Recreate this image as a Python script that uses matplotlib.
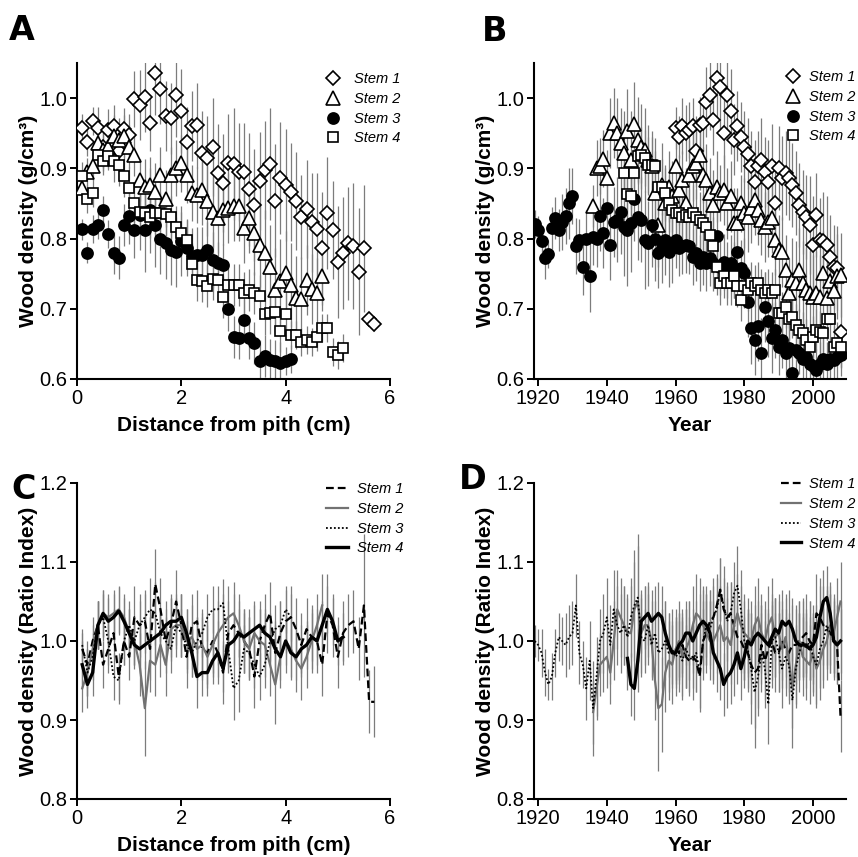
import numpy as np
import matplotlib
matplotlib.use('Agg')
import matplotlib.pyplot as plt

plt.rcParams['font.family'] = ['Liberation Sans', 'DejaVu Sans']

# ---------------- data ----------------
# panel A: density vs distance from pith (cm), samples every 0.1 cm
a_s1 = [0.957, 0.937, 0.967, 0.957, 0.931, 0.955, 0.960, 0.924, 0.956, 0.948,
        0.999, 0.990, 1.002, 0.965, 1.036, 1.013, 0.975, 0.971, 1.004, 0.982,
        0.937, 0.960, 0.961, 0.922, 0.915, 0.930, 0.893, 0.879, 0.907, 0.906,
        0.895, 0.895, 0.870, 0.848, 0.882, 0.898, 0.906, 0.854, 0.886, 0.876,
        0.866, 0.853, 0.831, 0.842, 0.823, 0.813, 0.786, 0.836, 0.812, 0.767,
        0.779, 0.793, 0.789, 0.753, 0.786, 0.686, 0.679]
a_s1_err = [0.02, 0.02, 0.02, 0.03, 0.03, 0.03, 0.03, 0.04, 0.03, 0.03,
            0.04, 0.05, 0.05, 0.04, 0.06, 0.05, 0.05, 0.05, 0.06, 0.06,
            0.05, 0.05, 0.06, 0.06, 0.06, 0.07, 0.07, 0.07, 0.07, 0.08,
            0.07, 0.07, 0.08, 0.08, 0.07, 0.07, 0.08, 0.08, 0.08, 0.08,
            0.07, 0.07, 0.06, 0.07, 0.07, 0.08, 0.08, 0.08, 0.07, 0.08,
            0.08, 0.08, 0.09, 0.09, 0.09, 0.01, 0.01]
a_s2 = [0.872, 0.895, 0.903, 0.936, 0.926, 0.931, 0.946, 0.941, 0.946, 0.931,
        0.919, 0.884, 0.873, 0.876, 0.867, 0.891, 0.857, 0.891, 0.900, 0.907,
        0.891, 0.865, 0.862, 0.869, 0.853, 0.838, 0.829, 0.841, 0.843, 0.847,
        0.847, 0.815, 0.829, 0.808, 0.791, 0.780, 0.760, 0.727, 0.739, 0.751,
        0.734, 0.715, 0.714, 0.741, 0.728, 0.723, 0.747]
a_s2_err = [0.02, 0.02, 0.02, 0.02, 0.03, 0.03, 0.03, 0.03, 0.03, 0.03,
            0.03, 0.03, 0.04, 0.04, 0.04, 0.04, 0.04, 0.04, 0.04, 0.04,
            0.04, 0.04, 0.04, 0.05, 0.05, 0.05, 0.05, 0.05, 0.05, 0.05,
            0.05, 0.05, 0.05, 0.06, 0.06, 0.06, 0.06, 0.06, 0.06, 0.06,
            0.06, 0.06, 0.06, 0.05, 0.05, 0.05, 0.05]
a_s3 = [0.813, 0.780, 0.813, 0.819, 0.840, 0.806, 0.780, 0.773, 0.819, 0.832,
        0.812, 0.834, 0.812, 0.840, 0.819, 0.800, 0.793, 0.784, 0.781, 0.796,
        0.786, 0.775, 0.777, 0.777, 0.783, 0.770, 0.765, 0.762, 0.699, 0.660,
        0.658, 0.684, 0.659, 0.651, 0.626, 0.633, 0.627, 0.625, 0.623, 0.626,
        0.629]
a_s3_err = [0.015, 0.015, 0.02, 0.02, 0.02, 0.02, 0.03, 0.03, 0.03, 0.04,
            0.04, 0.05, 0.06, 0.06, 0.06, 0.05, 0.05, 0.05, 0.05, 0.05,
            0.04, 0.04, 0.04, 0.04, 0.04, 0.04, 0.03, 0.03, 0.03, 0.03,
            0.03, 0.03, 0.03, 0.03, 0.03, 0.03, 0.03, 0.03, 0.03, 0.02,
            0.02]
a_s4 = [0.889, 0.856, 0.865, 0.919, 0.910, 0.917, 0.910, 0.905, 0.889, 0.872,
        0.850, 0.838, 0.836, 0.831, 0.836, 0.836, 0.835, 0.831, 0.817, 0.808,
        0.798, 0.764, 0.741, 0.739, 0.732, 0.743, 0.741, 0.717, 0.734, 0.734,
        0.734, 0.722, 0.727, 0.722, 0.718, 0.693, 0.694, 0.696, 0.669, 0.692,
        0.663, 0.663, 0.653, 0.655, 0.653, 0.660, 0.672, 0.672, 0.639, 0.634,
        0.644]
a_s4_err = [0.02, 0.02, 0.02, 0.02, 0.02, 0.02, 0.03, 0.03, 0.03, 0.03,
            0.03, 0.03, 0.03, 0.03, 0.03, 0.03, 0.03, 0.03, 0.03, 0.03,
            0.03, 0.03, 0.03, 0.03, 0.03, 0.03, 0.03, 0.03, 0.03, 0.03,
            0.03, 0.03, 0.03, 0.03, 0.03, 0.03, 0.03, 0.03, 0.03, 0.03,
            0.02, 0.02, 0.02, 0.02, 0.02, 0.02, 0.02, 0.02, 0.02, 0.02,
            0.02]

# panel B: density by year (first year of each stem)
b_s1_start, b_s2_start, b_s3_start, b_s4_start = 1960, 1936, 1919, 1945
b_s1 = [0.957, 0.945, 0.960, 0.950, 0.955, 0.960, 0.924, 0.962, 0.965, 0.995,
        1.005, 0.969, 1.029, 1.016, 0.950, 1.005, 0.981, 0.941, 0.960, 0.945,
        0.931, 0.921, 0.903, 0.881, 0.903, 0.912, 0.895, 0.881, 0.903, 0.850,
        0.900, 0.886, 0.893, 0.886, 0.876, 0.865, 0.848, 0.838, 0.831, 0.819,
        0.791, 0.834, 0.798, 0.796, 0.791, 0.774, 0.760, 0.758, 0.667]
b_s1_err = [0.03, 0.03, 0.04, 0.04, 0.04, 0.04, 0.05, 0.04, 0.04, 0.05,
            0.05, 0.05, 0.06, 0.06, 0.05, 0.06, 0.06, 0.05, 0.05, 0.05,
            0.05, 0.05, 0.05, 0.06, 0.05, 0.06, 0.05, 0.06, 0.06, 0.06,
            0.06, 0.06, 0.06, 0.06, 0.06, 0.06, 0.06, 0.06, 0.06, 0.07,
            0.07, 0.06, 0.06, 0.07, 0.07, 0.06, 0.06, 0.06, 0.05]
b_s2 = [0.846, 0.900, 0.903, 0.914, 0.886, 0.950, 0.965, 0.950, 0.936, 0.922,
        0.953, 0.912, 0.963, 0.941, 0.931, 0.926, 0.912, 0.903, 0.865, 0.819,
        0.876, 0.850, 0.874, 0.860, 0.903, 0.869, 0.884, 0.850, 0.891, 0.903,
        0.907, 0.919, 0.891, 0.884, 0.865, 0.848, 0.874, 0.865, 0.869, 0.850,
        0.860, 0.822, 0.822, 0.850, 0.836, 0.831, 0.843, 0.855, 0.841, 0.827,
        0.817, 0.824, 0.829, 0.798, 0.784, 0.781, 0.755, 0.722, 0.741, 0.736,
        0.755, 0.736, 0.727, 0.722, 0.717, 0.722, 0.717, 0.751, 0.715, 0.739,
        0.725, 0.746, 0.748]
b_s2_err = [0.03, 0.04, 0.04, 0.04, 0.04, 0.05, 0.05, 0.05, 0.05, 0.06,
            0.06, 0.07, 0.06, 0.06, 0.06, 0.06, 0.05, 0.05, 0.06, 0.06,
            0.06, 0.05, 0.05, 0.05, 0.05, 0.05, 0.04, 0.05, 0.05, 0.05,
            0.05, 0.05, 0.04, 0.05, 0.05, 0.05, 0.05, 0.04, 0.05, 0.05,
            0.05, 0.05, 0.05, 0.04, 0.05, 0.05, 0.05, 0.05, 0.05, 0.05,
            0.05, 0.05, 0.05, 0.05, 0.05, 0.05, 0.05, 0.05, 0.06, 0.06,
            0.06, 0.06, 0.06, 0.06, 0.06, 0.06, 0.06, 0.06, 0.06, 0.06,
            0.06, 0.06, 0.06]
b_s3 = [0.821, 0.812, 0.797, 0.773, 0.778, 0.815, 0.829, 0.812, 0.823, 0.832,
        0.850, 0.861, 0.789, 0.798, 0.760, 0.800, 0.746, 0.802, 0.800, 0.832,
        0.808, 0.843, 0.791, 0.824, 0.827, 0.838, 0.817, 0.812, 0.822, 0.856,
        0.830, 0.827, 0.798, 0.793, 0.819, 0.800, 0.779, 0.786, 0.798, 0.781,
        0.786, 0.798, 0.786, 0.789, 0.791, 0.789, 0.774, 0.779, 0.765, 0.774,
        0.765, 0.772, 0.765, 0.803, 0.760, 0.767, 0.755, 0.765, 0.755, 0.781,
        0.758, 0.751, 0.710, 0.672, 0.656, 0.675, 0.637, 0.703, 0.682, 0.658,
        0.670, 0.646, 0.656, 0.637, 0.644, 0.609, 0.641, 0.637, 0.629, 0.632,
        0.622, 0.618, 0.613, 0.622, 0.629, 0.622, 0.629, 0.627, 0.632, 0.634]
b_s3_err = [0.02, 0.02, 0.02, 0.03, 0.02, 0.03, 0.03, 0.03, 0.04, 0.04,
            0.05, 0.04, 0.04, 0.03, 0.04, 0.04, 0.05, 0.04, 0.04, 0.05,
            0.05, 0.05, 0.05, 0.05, 0.06, 0.06, 0.07, 0.08, 0.07, 0.06,
            0.06, 0.06, 0.07, 0.06, 0.06, 0.06, 0.05, 0.05, 0.05, 0.05,
            0.05, 0.04, 0.04, 0.04, 0.04, 0.04, 0.04, 0.04, 0.04, 0.04,
            0.04, 0.04, 0.04, 0.04, 0.04, 0.04, 0.04, 0.04, 0.04, 0.04,
            0.04, 0.05, 0.05, 0.05, 0.05, 0.05, 0.05, 0.05, 0.05, 0.05,
            0.04, 0.04, 0.04, 0.04, 0.04, 0.04, 0.04, 0.03, 0.03, 0.03,
            0.03, 0.03, 0.03, 0.03, 0.03, 0.03, 0.03, 0.03, 0.03, 0.03]
b_s4 = [0.894, 0.864, 0.860, 0.894, 0.918, 0.919, 0.915, 0.905, 0.905, 0.903,
        0.874, 0.874, 0.865, 0.850, 0.841, 0.836, 0.836, 0.831, 0.834, 0.831,
        0.836, 0.831, 0.827, 0.822, 0.817, 0.805, 0.790, 0.760, 0.736, 0.746,
        0.736, 0.736, 0.746, 0.732, 0.713, 0.732, 0.727, 0.736, 0.732, 0.736,
        0.727, 0.722, 0.727, 0.722, 0.727, 0.694, 0.694, 0.703, 0.686, 0.689,
        0.677, 0.670, 0.665, 0.656, 0.646, 0.660, 0.670, 0.667, 0.665, 0.686,
        0.686, 0.646, 0.651, 0.646]
b_s4_err = [0.03, 0.04, 0.04, 0.04, 0.04, 0.04, 0.04, 0.04, 0.04, 0.04,
            0.04, 0.04, 0.04, 0.04, 0.04, 0.04, 0.04, 0.04, 0.04, 0.04,
            0.04, 0.04, 0.04, 0.04, 0.04, 0.04, 0.04, 0.04, 0.03, 0.03,
            0.03, 0.03, 0.03, 0.03, 0.03, 0.03, 0.03, 0.03, 0.03, 0.03,
            0.03, 0.03, 0.03, 0.03, 0.03, 0.03, 0.03, 0.03, 0.03, 0.03,
            0.03, 0.03, 0.03, 0.03, 0.03, 0.03, 0.03, 0.03, 0.03, 0.03,
            0.03, 0.03, 0.03, 0.03]

# panel C: ratio index vs distance from pith (cm)
c_s1 = [0.990, 0.970, 1.000, 1.020, 0.970, 0.990, 1.010, 0.955, 1.000, 0.980,
        1.030, 1.020, 1.025, 0.990, 1.072, 1.040, 1.000, 1.020, 1.050, 1.020,
        0.980, 1.020, 1.025, 0.990, 0.985, 1.000, 0.985, 0.960, 1.010, 1.020,
        1.010, 1.000, 0.990, 0.955, 1.000, 1.020, 1.035, 0.985, 1.010, 1.025,
        1.030, 1.015, 0.995, 1.015, 1.005, 1.000, 0.970, 1.035, 1.020, 0.980,
        1.010, 1.020, 1.025, 0.990, 1.045, 0.923, 0.923]
c_s1_err = [0.02, 0.03, 0.03, 0.03, 0.03, 0.03, 0.03, 0.03, 0.03, 0.03,
            0.04, 0.04, 0.04, 0.04, 0.045, 0.04, 0.04, 0.04, 0.04, 0.04,
            0.04, 0.04, 0.04, 0.04, 0.04, 0.04, 0.04, 0.04, 0.04, 0.04,
            0.04, 0.04, 0.04, 0.04, 0.04, 0.04, 0.04, 0.04, 0.04, 0.04,
            0.04, 0.04, 0.04, 0.04, 0.04, 0.04, 0.04, 0.05, 0.04, 0.04,
            0.04, 0.04, 0.04, 0.04, 0.09, 0.04, 0.045]
c_s2 = [0.940, 0.960, 0.990, 1.020, 1.035, 1.030, 1.035, 1.040, 1.030, 1.010,
        1.000, 0.970, 0.915, 0.975, 0.970, 0.995, 0.970, 1.015, 1.020, 1.020,
        1.000, 1.005, 0.990, 0.995, 0.980, 0.995, 1.010, 1.020, 1.030, 1.035,
        1.020, 1.000, 0.990, 1.010, 1.000, 0.995, 0.970, 0.945, 0.980, 1.000,
        0.990, 0.975, 0.965, 0.980, 1.000, 1.020, 1.045]
c_s2_err = [0.03, 0.03, 0.03, 0.03, 0.03, 0.03, 0.03, 0.03, 0.03, 0.03,
            0.03, 0.04, 0.06, 0.04, 0.04, 0.04, 0.04, 0.04, 0.04, 0.04,
            0.04, 0.04, 0.04, 0.04, 0.04, 0.04, 0.04, 0.04, 0.04, 0.04,
            0.04, 0.04, 0.04, 0.04, 0.04, 0.04, 0.04, 0.05, 0.04, 0.04,
            0.04, 0.04, 0.04, 0.04, 0.04, 0.04, 0.04]
c_s3 = [0.995, 0.960, 0.980, 1.020, 1.030, 1.000, 0.955, 0.950, 1.000, 1.020,
        1.000, 1.020, 1.030, 1.040, 1.035, 1.010, 1.000, 0.990, 1.020, 1.010,
        0.995, 0.985, 1.000, 1.010, 1.030, 1.040, 1.040, 1.048, 0.990, 0.940,
        0.950, 0.990, 0.985, 0.970, 0.955, 0.970, 1.000, 1.015, 1.020, 1.040,
        1.030]
c_s3_err = [0.02, 0.03, 0.03, 0.03, 0.03, 0.03, 0.03, 0.03, 0.03, 0.03,
            0.03, 0.03, 0.03, 0.04, 0.04, 0.03, 0.03, 0.03, 0.03, 0.03,
            0.03, 0.03, 0.03, 0.03, 0.03, 0.03, 0.03, 0.03, 0.03, 0.04,
            0.04, 0.03, 0.03, 0.03, 0.03, 0.03, 0.03, 0.03, 0.03, 0.03,
            0.03]
c_s4 = [0.970, 0.945, 0.960, 1.020, 1.035, 1.025, 1.030, 1.038, 1.025, 1.010,
        0.995, 0.990, 0.995, 1.000, 1.005, 1.010, 1.020, 1.025, 1.025, 1.030,
        1.010, 0.985, 0.955, 0.960, 0.960, 0.975, 0.985, 0.965, 0.995, 1.000,
        1.010, 1.005, 1.010, 1.015, 1.020, 1.010, 1.005, 0.990, 0.980, 1.000,
        0.985, 0.980, 0.990, 0.995, 1.005, 1.000, 1.020, 1.040, 1.025, 1.000,
        1.005]
c_s4_err = [0.03, 0.03, 0.03, 0.03, 0.03, 0.03, 0.03, 0.03, 0.03, 0.03,
            0.03, 0.03, 0.03, 0.03, 0.03, 0.03, 0.03, 0.03, 0.03, 0.03,
            0.03, 0.03, 0.04, 0.03, 0.03, 0.03, 0.03, 0.03, 0.03, 0.03,
            0.03, 0.03, 0.03, 0.03, 0.03, 0.03, 0.03, 0.03, 0.03, 0.03,
            0.03, 0.03, 0.03, 0.03, 0.03, 0.03, 0.03, 0.03, 0.03, 0.03,
            0.03]

# panel D: ratio index by year
d_s1_start, d_s2_start, d_s3_start, d_s4_start = 1960, 1936, 1919, 1946
d_s1 = [0.990, 0.985, 0.995, 0.980, 0.975, 0.980, 0.975, 0.955, 1.000, 1.010,
        1.025, 1.030, 1.045, 1.065, 1.040, 1.030, 1.035, 1.020, 1.005, 1.000,
        0.990, 0.985, 0.970, 0.960, 0.965, 0.995, 0.975, 0.990, 1.000, 0.985,
        0.985, 1.000, 0.990, 0.985, 0.995, 0.995, 1.000, 1.005, 1.010, 1.000,
        0.995, 1.035, 1.030, 1.020, 1.015, 1.010, 1.000, 0.995, 0.905]
d_s1_err = [0.04, 0.04, 0.04, 0.04, 0.04, 0.04, 0.04, 0.04, 0.04, 0.04,
            0.04, 0.04, 0.04, 0.04, 0.04, 0.04, 0.04, 0.04, 0.04, 0.04,
            0.04, 0.05, 0.05, 0.07, 0.05, 0.05, 0.05, 0.05, 0.05, 0.05,
            0.05, 0.05, 0.05, 0.05, 0.05, 0.05, 0.05, 0.05, 0.05, 0.05,
            0.05, 0.05, 0.05, 0.05, 0.05, 0.05, 0.05, 0.05, 0.045]
d_s2 = [0.910, 0.940, 0.970, 0.975, 0.980, 0.960, 1.000, 1.040, 1.030, 1.020,
        1.010, 1.010, 1.040, 1.050, 1.010, 1.020, 1.020, 1.000, 0.950, 0.915,
        0.920, 0.960, 0.975, 0.970, 0.990, 1.000, 0.980, 0.990, 1.000, 1.020,
        1.035, 1.030, 1.020, 1.010, 1.000, 1.000, 1.010, 1.020, 1.000, 1.005,
        0.995, 1.020, 1.035, 1.020, 1.010, 1.005, 1.000, 1.020, 1.030, 1.010,
        1.000, 1.020, 1.030, 1.005, 1.010, 0.990, 1.005, 0.975, 0.940, 0.970,
        1.000, 0.980, 0.975, 0.970, 0.985, 0.965, 0.975, 0.990, 1.000, 1.020,
        1.010, 1.030, 1.050]
d_s2_err = [0.04, 0.04, 0.04, 0.04, 0.04, 0.04, 0.05, 0.05, 0.05, 0.05,
            0.05, 0.06, 0.06, 0.07, 0.05, 0.05, 0.05, 0.05, 0.05, 0.08,
            0.06, 0.05, 0.05, 0.05, 0.05, 0.05, 0.05, 0.05, 0.05, 0.05,
            0.05, 0.05, 0.05, 0.05, 0.05, 0.05, 0.05, 0.05, 0.05, 0.05,
            0.05, 0.05, 0.05, 0.05, 0.05, 0.05, 0.05, 0.05, 0.05, 0.05,
            0.05, 0.05, 0.05, 0.05, 0.05, 0.05, 0.05, 0.05, 0.05, 0.05,
            0.05, 0.05, 0.05, 0.05, 0.05, 0.05, 0.05, 0.05, 0.05, 0.05,
            0.05, 0.05, 0.05]
d_s3 = [1.000, 0.995, 0.985, 0.960, 0.945, 0.955, 0.985, 1.005, 1.000, 0.995,
        1.005, 1.010, 1.045, 0.985, 0.970, 0.940, 0.975, 0.915, 0.955, 1.000,
        1.010, 1.030, 0.995, 1.040, 1.020, 1.010, 1.020, 1.005, 1.030, 1.045,
        1.055, 1.005, 1.000, 1.020, 0.995, 1.010, 0.985, 0.990, 1.000, 0.985,
        0.990, 0.980, 0.985, 0.975, 0.990, 0.980, 0.975, 0.985, 0.960, 1.000,
        1.020, 1.015, 1.030, 1.040, 1.065, 1.045, 1.025, 1.035, 1.060, 1.070,
        1.040, 1.000, 0.990, 0.965, 0.935, 0.955, 0.985, 0.965, 0.920, 1.000,
        1.005, 0.985, 0.965, 0.980, 0.970, 0.925, 0.965, 0.985, 1.000, 0.990,
        1.000, 0.980, 0.970, 0.990, 1.000, 1.020, 1.010, 1.005, 0.995, 1.000]
d_s3_err = [0.02, 0.02, 0.03, 0.03, 0.02, 0.03, 0.03, 0.03, 0.03, 0.04,
            0.04, 0.04, 0.04, 0.04, 0.03, 0.04, 0.05, 0.06, 0.05, 0.04,
            0.05, 0.05, 0.05, 0.05, 0.05, 0.05, 0.05, 0.05, 0.05, 0.07,
            0.08, 0.05, 0.04, 0.04, 0.04, 0.04, 0.05, 0.05, 0.05, 0.05,
            0.05, 0.05, 0.05, 0.05, 0.05, 0.05, 0.05, 0.05, 0.05, 0.05,
            0.05, 0.05, 0.05, 0.04, 0.04, 0.05, 0.05, 0.04, 0.04, 0.05,
            0.05, 0.05, 0.05, 0.07, 0.07, 0.05, 0.05, 0.05, 0.05, 0.06,
            0.05, 0.05, 0.05, 0.05, 0.05, 0.06, 0.05, 0.05, 0.05, 0.05,
            0.05, 0.05, 0.05, 0.05, 0.05, 0.05, 0.05, 0.05, 0.05, 0.05]
d_s4 = [0.978, 0.945, 0.940, 0.975, 1.025, 1.030, 1.035, 1.025, 1.030, 1.035,
        1.030, 1.010, 0.995, 0.985, 0.985, 0.995, 1.000, 1.010, 1.010, 1.000,
        1.010, 1.020, 1.025, 1.020, 1.010, 0.985, 0.975, 0.965, 0.945, 0.955,
        0.960, 0.970, 0.985, 0.965, 0.980, 1.000, 0.995, 1.005, 1.010, 1.005,
        1.000, 0.995, 1.005, 1.015, 1.010, 1.025, 1.020, 1.025, 1.015, 1.000,
        0.995, 0.995, 0.995, 0.990, 0.995, 1.005, 1.030, 1.050, 1.055, 1.035,
        1.000, 0.995, 1.000]
d_s4_err = [0.04, 0.04, 0.04, 0.04, 0.04, 0.04, 0.04, 0.04, 0.04, 0.04,
            0.04, 0.04, 0.04, 0.04, 0.04, 0.04, 0.04, 0.04, 0.04, 0.04,
            0.04, 0.04, 0.04, 0.04, 0.04, 0.04, 0.04, 0.04, 0.04, 0.04,
            0.04, 0.04, 0.04, 0.04, 0.04, 0.04, 0.04, 0.04, 0.04, 0.04,
            0.04, 0.04, 0.04, 0.04, 0.04, 0.04, 0.04, 0.04, 0.04, 0.04,
            0.04, 0.04, 0.04, 0.04, 0.04, 0.04, 0.04, 0.04, 0.04, 0.04,
            0.04, 0.04, 0.04]

stem_labels = ['Stem 1', 'Stem 2', 'Stem 3', 'Stem 4']

W, H = 858, 857
ERR_COLOR = '#7c7c7c'
LEG_SIZE = 10.5


def dist_axis(values):
    # sampling positions every 0.1 cm from the pith
    return np.round(0.1 * np.arange(1, len(values) + 1), 1)


def year_axis(start, values):
    return np.arange(start, start + len(values))


def px_axes(fig, left, top, right, bottom):
    return fig.add_axes([left / W, 1 - bottom / H, (right - left) / W, (bottom - top) / H])


def style(ax, xlim, ylim, xticks, yticks, xlabel, ylabel):
    ax.set_xlim(*xlim)
    ax.set_ylim(*ylim)
    for s in ['top', 'right']:
        ax.spines[s].set_visible(False)
    for s in ['left', 'bottom']:
        ax.spines[s].set_linewidth(1.5)
    ax.set_xticks(xticks)
    ax.set_yticks(yticks)
    ax.set_yticklabels([f'{v:.1f}' for v in yticks])
    ax.tick_params(direction='out', length=5, width=1.4, labelsize=14.5, pad=2)
    ax.set_xlabel(xlabel, fontsize=15, fontweight='bold', labelpad=6)
    ax.set_ylabel(ylabel, fontsize=15, fontweight='bold', labelpad=1)


marker_styles = [('D', 7, 'white'), ('^', 9.5, 'white'), ('o', 8, 'black'), ('s', 7.5, 'white')]
line_styles = [dict(color='black', lw=1.6, ls=(0, (3.5, 1.8))),
               dict(color='#727272', lw=1.6, ls='-'),
               dict(color='black', lw=1.3, ls=(0, (1, 1.2))),
               dict(color='black', lw=2.4, ls='-')]


def scatter_panel(ax, series, leg_xy, textpad):
    handles = []
    for (x, y, e) in series:
        ax.errorbar(x, y, yerr=e, fmt='none', ecolor=ERR_COLOR, elinewidth=0.9, capsize=0, zorder=1)
    for (x, y, e), (m, ms, fc), lab in zip(series, marker_styles, stem_labels):
        h, = ax.plot(x, y, ls='none', marker=m, ms=ms, mfc=fc, mec='black', mew=1.2,
                     zorder=3, label=lab)
        handles.append(h)
    ax.legend(handles=handles, loc='upper left', bbox_to_anchor=(leg_xy[0] / W, 1 - leg_xy[1] / H),
              bbox_transform=fig.transFigure, frameon=False,
              prop={'style': 'italic', 'size': LEG_SIZE},
              handlelength=1.0, handletextpad=textpad, labelspacing=0.4, borderpad=0,
              borderaxespad=0, numpoints=1)


def line_panel(ax, series, leg_xy, hlen, textpad):
    handles = []
    for (x, y, e) in series:
        ax.errorbar(x, y, yerr=e, fmt='none', ecolor=ERR_COLOR, elinewidth=0.9, capsize=0, zorder=1)
    for (x, y, e), st, lab in zip(series, line_styles, stem_labels):
        h, = ax.plot(x, y, zorder=3, label=lab, **st)
        handles.append(h)
    ax.legend(handles=handles, loc='upper left', bbox_to_anchor=(leg_xy[0] / W, 1 - leg_xy[1] / H),
              bbox_transform=fig.transFigure, frameon=False,
              prop={'style': 'italic', 'size': LEG_SIZE},
              handlelength=hlen, handletextpad=textpad, labelspacing=0.4, borderpad=0,
              borderaxespad=0)


fig = plt.figure(figsize=(W / 100, H / 100), dpi=100)

# A
axA = px_axes(fig, 77, 63, 390, 379)
scatter_panel(axA, [(dist_axis(a_s1), a_s1, a_s1_err), (dist_axis(a_s2), a_s2, a_s2_err),
                    (dist_axis(a_s3), a_s3, a_s3_err), (dist_axis(a_s4), a_s4, a_s4_err)],
              (326, 72), 0.9)
style(axA, (0, 6), (0.6, 1.05), [0, 2, 4, 6], [0.6, 0.7, 0.8, 0.9, 1.0],
      'Distance from pith (cm)', 'Wood density (g/cm³)')

# B
axB = px_axes(fig, 534, 63, 846, 379)
scatter_panel(axB, [(year_axis(b_s1_start, b_s1), b_s1, b_s1_err),
                    (year_axis(b_s2_start, b_s2), b_s2, b_s2_err),
                    (year_axis(b_s3_start, b_s3), b_s3, b_s3_err),
                    (year_axis(b_s4_start, b_s4), b_s4, b_s4_err)],
              (786, 70), 0.55)
style(axB, (1918.8, 2009.6), (0.6, 1.05), [1920, 1940, 1960, 1980, 2000],
      [0.6, 0.7, 0.8, 0.9, 1.0], 'Year', 'Wood density (g/cm³)')

# C
axC = px_axes(fig, 77, 483, 390, 799)
line_panel(axC, [(dist_axis(c_s1), c_s1, c_s1_err), (dist_axis(c_s2), c_s2, c_s2_err),
                 (dist_axis(c_s3), c_s3, c_s3_err), (dist_axis(c_s4), c_s4, c_s4_err)],
           (326, 482), 1.5, 0.6)
style(axC, (0, 6), (0.8, 1.2), [0, 2, 4, 6], [0.8, 0.9, 1.0, 1.1, 1.2],
      'Distance from pith (cm)', 'Wood density (Ratio Index)')

# D
axD = px_axes(fig, 534, 483, 846, 799)
line_panel(axD, [(year_axis(d_s1_start, d_s1), d_s1, d_s1_err),
                 (year_axis(d_s2_start, d_s2), d_s2, d_s2_err),
                 (year_axis(d_s3_start, d_s3), d_s3, d_s3_err),
                 (year_axis(d_s4_start, d_s4), d_s4, d_s4_err)],
           (781, 477), 1.4, 0.5)
style(axD, (1918.8, 2009.6), (0.8, 1.2), [1920, 1940, 1960, 1980, 2000],
      [0.8, 0.9, 1.0, 1.1, 1.2], 'Year', 'Wood density (Ratio Index)')

# panel letters
for letter, (px, py) in zip('ABCD', [(9, 40), (482, 41), (11, 499), (459, 489)]):
    fig.text(px / W, 1 - py / H, letter, fontsize=24, fontweight='bold', va='baseline',
             ha='left', family='DejaVu Sans')

fig.savefig('out.png', dpi=100)
